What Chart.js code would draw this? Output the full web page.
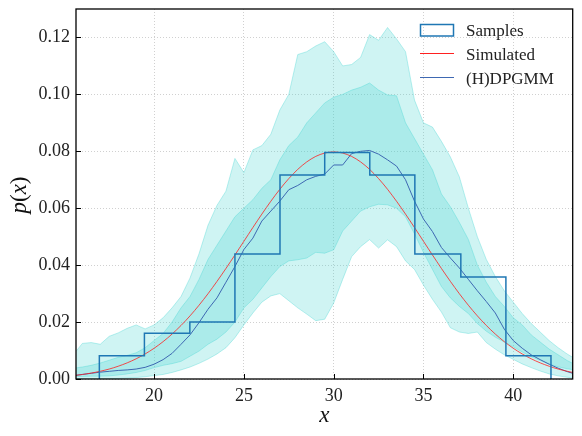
<!DOCTYPE html>
<html><head><meta charset="utf-8">
<style>html,body{margin:0;padding:0;background:#fff}canvas{display:block}</style>
<script src="https://cdn.jsdelivr.net/npm/chart.js@4.4.1/dist/chart.umd.min.js"></script>
</head><body>
<canvas id="c" width="582" height="436"></canvas>
<script>
// ---------- data ----------
const xs = [15.65, 16, 16.5, 17, 17.5, 18, 18.5, 19, 19.5, 20,
  20.5, 21, 21.5, 22, 22.5, 23, 23.5, 24, 24.5, 25,
  25.5, 26, 26.5, 27, 27.5, 28, 28.5, 29, 29.5, 30,
  30.5, 31, 31.5, 32, 32.5, 33, 33.5, 34, 34.5, 35,
  35.5, 36, 36.5, 37, 37.5, 38, 38.5, 39, 39.5, 40,
  40.5, 41, 41.5, 42, 42.5, 43, 43.31];

const lightUpper = [0.0097, 0.0125, 0.0128, 0.0122, 0.0150, 0.0162, 0.0178, 0.0190, 0.0176, 0.0190,
  0.0215, 0.0250, 0.0290, 0.0355, 0.0440, 0.0540, 0.0610, 0.0660, 0.0775, 0.0725,
  0.0805, 0.0820, 0.0860, 0.0945, 0.1000, 0.1140, 0.1150, 0.1170, 0.1185, 0.1150,
  0.1100, 0.1105, 0.1130, 0.1210, 0.1190, 0.1235, 0.1195, 0.1150, 0.0980, 0.0900,
  0.0885, 0.0835, 0.0780, 0.0710, 0.0600, 0.0500, 0.0420, 0.0360, 0.0310, 0.0270,
  0.0230, 0.0195, 0.0165, 0.0135, 0.0110, 0.0088, 0.0076];

const darkUpper = [0.0039, 0.0042, 0.0048, 0.0056, 0.0066, 0.0076, 0.0083, 0.0092, 0.0110, 0.0135,
  0.0160, 0.0200, 0.0250, 0.0290, 0.0350, 0.0420, 0.0470, 0.0520, 0.0570, 0.0600,
  0.0630, 0.0670, 0.0700, 0.0770, 0.0820, 0.0850, 0.0900, 0.0935, 0.0970, 0.0990,
  0.1000, 0.1015, 0.1025, 0.1040, 0.1015, 0.0998, 0.0995, 0.0900, 0.0845, 0.0790,
  0.0735, 0.0650, 0.0605, 0.0550, 0.0490, 0.0400, 0.0340, 0.0290, 0.0255, 0.0215,
  0.0190, 0.0155, 0.0130, 0.0105, 0.0085, 0.0065, 0.0055];

const darkLower = [0.0009, 0.0009, 0.0010, 0.0010, 0.0011, 0.0014, 0.0018, 0.0023, 0.0030, 0.0040,
  0.0048, 0.0054, 0.0062, 0.0080, 0.0098, 0.0122, 0.0140, 0.0165, 0.0200, 0.0250,
  0.0280, 0.0320, 0.0360, 0.0395, 0.0415, 0.0419, 0.0425, 0.0445, 0.0442, 0.0454,
  0.0520, 0.0555, 0.0590, 0.0605, 0.0614, 0.0612, 0.0600, 0.0570, 0.0510, 0.0445,
  0.0385, 0.0325, 0.0285, 0.0255, 0.0230, 0.0195, 0.0168, 0.0147, 0.0130, 0.0113,
  0.0095, 0.0078, 0.0065, 0.0052, 0.0043, 0.0036, 0.0033];

const lightLower = [0.0000, 0.0000, 0.0000, 0.0000, 0.0001, 0.0002, 0.0003, 0.0005, 0.0008, 0.0012,
  0.0016, 0.0023, 0.0032, 0.0042, 0.0055, 0.0070, 0.0088, 0.0110, 0.0145, 0.0190,
  0.0232, 0.0270, 0.0292, 0.0300, 0.0275, 0.0250, 0.0228, 0.0205, 0.0210, 0.0267,
  0.0350, 0.0430, 0.0465, 0.0490, 0.0460, 0.0489, 0.0465, 0.0415, 0.0385, 0.0330,
  0.0280, 0.0235, 0.0180, 0.0165, 0.0160, 0.0165, 0.0128, 0.0105, 0.0085, 0.0069,
  0.0053, 0.0040, 0.0028, 0.0018, 0.0011, 0.0006, 0.0004];

const medianDPGMM = [0.0013, 0.0016, 0.0020, 0.0024, 0.0027, 0.0030, 0.0032, 0.0035, 0.0041, 0.0052,
  0.0068, 0.0090, 0.0122, 0.0155, 0.0198, 0.0245, 0.0285, 0.0340, 0.0395, 0.0455,
  0.0495, 0.0555, 0.0590, 0.0625, 0.0665, 0.0680, 0.0700, 0.0712, 0.0720, 0.0752,
  0.0752, 0.0792, 0.0800, 0.0803, 0.0790, 0.0770, 0.0748, 0.0700, 0.0625, 0.0562,
  0.0518, 0.0462, 0.0425, 0.0390, 0.0350, 0.0310, 0.0272, 0.0232, 0.0175, 0.0135,
  0.0108, 0.0085, 0.0068, 0.0052, 0.0038, 0.0026, 0.0020];

const simulated = [0.0013, 0.00158, 0.00208, 0.00272, 0.0035, 0.00448, 0.00567, 0.0071, 0.0088, 0.0108,
  0.01312, 0.01579, 0.01881, 0.02218, 0.02591, 0.02995, 0.03428, 0.03884, 0.04357, 0.04839,
  0.05322, 0.05794, 0.06245, 0.06665, 0.07041, 0.07366, 0.07628, 0.07821, 0.07939, 0.07979,
  0.07939, 0.07821, 0.07628, 0.07366, 0.07041, 0.06665, 0.06245, 0.05794, 0.05322, 0.04839,
  0.04357, 0.03884, 0.03428, 0.02995, 0.02591, 0.02218, 0.01881, 0.01579, 0.01312, 0.0108,
  0.0088, 0.0071, 0.00567, 0.00448, 0.0035, 0.00272, 0.00231];

const binEdges = [16.95, 19.46, 21.99, 24.50, 27.01, 29.50, 32.01, 34.52, 37.08, 39.59, 42.10];
const binHeights = [0.0082, 0.0161, 0.0200, 0.0439, 0.0717, 0.0796, 0.0717, 0.0439, 0.0358, 0.0082];

const xTicks = [20, 25, 30, 35, 40];
const xTickLabels = ['20', '25', '30', '35', '40'];
const yTicks = [0, 0.02, 0.04, 0.06, 0.08, 0.10, 0.12];
const yTickLabels = ['0.00', '0.02', '0.04', '0.06', '0.08', '0.10', '0.12'];
const legendLabels = ['Samples', 'Simulated', '(H)DPGMM'];
const xTitle = 'x';
const yTitleParts = [['p', true], ['(', false], ['x', true], [')', false]];

// ---------- build ----------
const serif = '"Liberation Serif", "DejaVu Serif", serif';
const pts = ys => xs.map((x, i) => ({x: x, y: ys[i]}));
const histPts = [{x: binEdges[0], y: 0}];
binHeights.forEach((h, i) => { histPts.push({x: binEdges[i], y: h}); histPts.push({x: binEdges[i + 1], y: h}); });
histPts.push({x: binEdges[binEdges.length - 1], y: 0});

const HIST = '#1f77b4', RED = '#ff2020', MED = 'rgb(62,104,178)';
const BAND = 'rgba(64,212,208,0.25)', BANDEDGE = 'rgba(64,212,208,0.35)';

const decor = {
  id: 'decor',
  afterDraw(chart) {
    const {ctx, chartArea: a, scales: {x, y}} = chart;
    ctx.save();
    ctx.strokeStyle = '#000';
    ctx.lineWidth = 1;
    xTicks.forEach(v => { const p = Math.round(x.getPixelForValue(v)) + 0.5; ctx.beginPath(); ctx.moveTo(p, a.bottom); ctx.lineTo(p, a.bottom - 5); ctx.stroke(); });
    yTicks.forEach(v => { const p = Math.round(y.getPixelForValue(v)) + 0.5; ctx.beginPath(); ctx.moveTo(a.left, p); ctx.lineTo(a.left + 5, p); ctx.stroke(); });
    ctx.lineWidth = 1.3;
    ctx.strokeRect(a.left, a.top, a.right - a.left, a.bottom - a.top);
    // x title
    ctx.fillStyle = '#111';
    ctx.textBaseline = 'alphabetic';
    ctx.textAlign = 'center';
    ctx.font = 'italic 23px ' + serif;
    ctx.fillText(xTitle, (a.left + a.right) / 2, 421.5);
    // y title
    ctx.save();
    ctx.translate(26, 195);
    ctx.rotate(-Math.PI / 2);
    ctx.textAlign = 'left';
    let w = 0;
    const fonts = yTitleParts.map(([t, it]) => (it ? 'italic ' : '') + '23px ' + serif);
    yTitleParts.forEach(([t], i) => { ctx.font = fonts[i]; w += ctx.measureText(t).width; });
    let cx = -w / 2;
    yTitleParts.forEach(([t], i) => { ctx.font = fonts[i]; ctx.fillText(t, cx, 0); cx += ctx.measureText(t).width; });
    ctx.restore();
    // legend
    ctx.strokeStyle = HIST; ctx.lineWidth = 1.5;
    ctx.strokeRect(420.5, 24.5, 33, 11.5);
    ctx.strokeStyle = RED; ctx.lineWidth = 1;
    ctx.beginPath(); ctx.moveTo(420, 53.5); ctx.lineTo(454, 53.5); ctx.stroke();
    ctx.strokeStyle = MED;
    ctx.beginPath(); ctx.moveTo(420, 77.5); ctx.lineTo(454, 77.5); ctx.stroke();
    ctx.fillStyle = '#222';
    ctx.font = '17px ' + serif;
    ctx.textAlign = 'left';
    [36, 60, 84].forEach((b, i) => ctx.fillText(legendLabels[i], 466, b));
    ctx.restore();
  }
};

const line = (data, color, width, extra) => Object.assign({data: data, borderColor: color, borderWidth: width, pointRadius: 0, fill: false, tension: 0}, extra || {});

new Chart(document.getElementById('c'), {
  type: 'line',
  data: {
    datasets: [
      line(histPts, HIST, 1.5),
      line(pts(simulated), RED, 0.8, {tension: 0.3}),
      line(pts(medianDPGMM), MED, 1),
      line(pts(darkUpper), BANDEDGE, 1, {fill: '+1', backgroundColor: BAND}),
      line(pts(darkLower), BANDEDGE, 1),
      line(pts(lightUpper), BANDEDGE, 1, {fill: '+1', backgroundColor: BAND}),
      line(pts(lightLower), BANDEDGE, 1)
    ]
  },
  options: {
    responsive: false,
    animation: false,
    devicePixelRatio: 1,
    layout: {padding: {left: 0, top: 9, right: 9.3, bottom: 0}},
    plugins: {legend: {display: false}, tooltip: {enabled: false}},
    scales: {
      x: {
        type: 'linear', min: 15.65, max: 43.31,
        afterBuildTicks: s => { s.ticks = xTicks.map(v => ({value: v})); },
        afterFit: s => { s.height = 57; s.paddingLeft = 0; s.paddingRight = 0; },
        ticks: {callback: v => { const i = xTicks.indexOf(v); return i >= 0 ? xTickLabels[i] : ''; }, font: {family: serif, size: 18}, color: '#222', padding: 6, maxRotation: 0, autoSkip: false},
        grid: {color: '#c4c4c4', lineWidth: 0.8, drawTicks: false},
        border: {display: false, dash: [1, 2]}
      },
      y: {
        type: 'linear', min: 0, max: 0.13,
        afterBuildTicks: s => { s.ticks = yTicks.map(v => ({value: v})); },
        afterFit: s => { s.width = 76; s.paddingTop = 0; s.paddingBottom = 0; },
        ticks: {callback: v => { const i = yTicks.findIndex(t => Math.abs(t - v) < 1e-9); return i >= 0 ? yTickLabels[i] : ''; }, font: {family: serif, size: 18}, color: '#222', padding: 6, autoSkip: false},
        grid: {color: '#c4c4c4', lineWidth: 0.8, drawTicks: false},
        border: {display: false, dash: [1, 2]}
      }
    }
  },
  plugins: [decor]
});
</script>
</body></html>
